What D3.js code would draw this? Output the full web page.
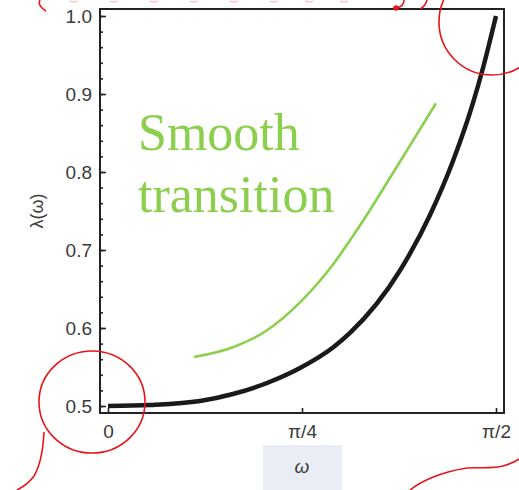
<!DOCTYPE html>
<html>
<head>
<meta charset="utf-8">
<script src="https://cdn.jsdelivr.net/npm/d3@7"></script>
<style>
  body { margin: 0; background: #fff; }
  svg { display: block; }
</style>
</head>
<body>
<div id="chart"></div>
<script>
// values
var omega  = [0, 0.1700, 0.3725, 0.5061, 0.6437, 0.7773, 0.9109, 0.9797, 1.1821, 1.3036, 1.3967, 1.4777, 1.5181, Math.PI / 2];
var lambda = [0.5, 0.5013, 0.5064, 0.5154, 0.5295, 0.5487, 0.5750, 0.5936, 0.6737, 0.7449, 0.8141, 0.8885, 0.9333, 1.0];

// the green "smooth transition" stroke
var greenOmega  = [0.3482, 0.5061, 0.6437, 0.7773, 0.9109, 1.0323, 1.1700, 1.3279];
var greenLambda = [0.5628, 0.5753, 0.5971, 0.6329, 0.6815, 0.7373, 0.8071, 0.8881];

var yTicks = [0.5, 0.6, 0.7, 0.8, 0.9, 1.0];
var xTicks = [0, Math.PI / 4, Math.PI / 2];
var xTickLabels = ["0", "\u03c0/4", "\u03c0/2"];

var W = 519, H = 490;
var svg = d3.select("#chart").append("svg")
  .attr("width", W).attr("height", H);

var x = d3.scaleLinear().domain([0, Math.PI / 2]).range([108, 496]);
var y = d3.scaleLinear().domain([0.5, 1.0]).range([406, 16]);

var frameL = x(0) - 8, frameR = x(Math.PI / 2) + 8,
    frameT = y(1.0) - 7, frameB = y(0.5) + 7;

var tickFont = "'Liberation Sans', Arial, sans-serif";

// frame
svg.append("rect")
  .attr("x", frameL).attr("y", frameT)
  .attr("width", frameR - frameL).attr("height", frameB - frameT)
  .attr("fill", "none").attr("stroke", "#222").attr("stroke-width", 2);

// y axis (ticks pointing inward)
var minor = d3.range(0.5, 1.0001, 0.02);
svg.append("g")
  .attr("transform", "translate(" + frameL + ",0)")
  .call(d3.axisLeft(y).tickValues(minor).tickSize(-3).tickFormat(""))
  .call(function(g) { g.select(".domain").remove(); })
  .selectAll("line").attr("stroke", "#222").attr("stroke-width", 1.6);

svg.append("g")
  .attr("transform", "translate(" + frameL + ",0)")
  .call(d3.axisLeft(y).tickValues(yTicks).tickSize(-6).tickPadding(8).tickFormat(d3.format(".1f")))
  .call(function(g) { g.select(".domain").remove(); })
  .call(function(g) {
    g.selectAll("line").attr("stroke", "#222").attr("stroke-width", 1.6);
    g.selectAll("text").attr("fill", "#3a3a3a")
      .style("font-family", tickFont).style("font-size", "19px");
  });

// x axis
svg.append("g")
  .attr("transform", "translate(0," + frameB + ")")
  .call(d3.axisBottom(x).tickValues(xTicks).tickSize(-5).tickPadding(12)
    .tickFormat(function(d, i) { return xTickLabels[i]; }))
  .call(function(g) { g.select(".domain").remove(); })
  .call(function(g) {
    g.selectAll("line").attr("stroke", "#222").attr("stroke-width", 1.6);
    g.selectAll("text").attr("fill", "#3a3a3a")
      .style("font-family", tickFont).style("font-size", "19px");
  });

// axis labels
svg.append("text")
  .attr("transform", "translate(43," + ((frameT + frameB) / 2) + ") rotate(-90)")
  .attr("text-anchor", "middle")
  .attr("fill", "#3a3a3a")
  .style("font-family", tickFont).style("font-size", "18px")
  .text("\u03bb(\u03c9)");

svg.append("rect")
  .attr("x", 263).attr("y", 445).attr("width", 79).attr("height", 45)
  .attr("fill", "#e9eef6");
svg.append("text")
  .attr("x", x(Math.PI / 4)).attr("y", 473)
  .attr("text-anchor", "middle")
  .attr("fill", "#3a3a3a")
  .style("font-family", tickFont).style("font-size", "19px").style("font-style", "italic")
  .text("\u03c9");

// curves
var line = d3.line()
  .x(function(d) { return x(d[0]); })
  .y(function(d) { return y(d[1]); })
  .curve(d3.curveMonotoneX);

svg.append("path")
  .datum(d3.zip(greenOmega, greenLambda))
  .attr("d", line)
  .attr("fill", "none").attr("stroke", "#8ccf4f").attr("stroke-width", 2.6);

svg.append("path")
  .datum(d3.zip(omega, lambda))
  .attr("d", line)
  .attr("fill", "none").attr("stroke", "#1a1a1a").attr("stroke-width", 4.5);

// annotation text
var note = svg.append("text")
  .attr("fill", "#8ccf4f")
  .style("font-family", "'Liberation Serif', 'Times New Roman', serif")
  .style("font-size", "52px");
note.append("tspan").attr("x", 138).attr("y", 150).text("Smooth");
note.append("tspan").attr("x", 138).attr("y", 212).text("transition");

// red hand-drawn marks
var red = svg.append("g").attr("fill", "none").attr("stroke", "#e8141a").attr("stroke-width", 1.6);
red.append("ellipse").attr("cx", 92).attr("cy", 402).attr("rx", 53).attr("ry", 51);
red.append("circle").attr("cx", 492).attr("cy", 22).attr("r", 53);
red.append("path").attr("d", "M44,432 C43,452 40,466 34,476 C29,483 23,487 17,490");
red.append("path").attr("d", "M410,490 C420,482 440,472 467,468 C480,467 492,469 503,466 C510,464 515,462 519,459");
red.append("path").attr("d", "M40,0 C38,4 41,8 46,11");
red.append("path").attr("d", "M404,0 C404,4 402,7 396,8");
red.append("path").attr("d", "M427,0 C426,4 424,7 420,9");
red.append("circle").attr("cx", 396).attr("cy", 8).attr("r", 2).attr("fill", "#e8141a");
var pink = svg.append("g").attr("fill", "none").attr("stroke", "#f6b0b0").attr("stroke-width", 1.2);
[70, 110, 150, 190, 230, 270, 305, 340].forEach(function(px) {
  pink.append("path").attr("d", "M" + px + ",1 q4,2 8,0");
});
</script>
</body>
</html>
